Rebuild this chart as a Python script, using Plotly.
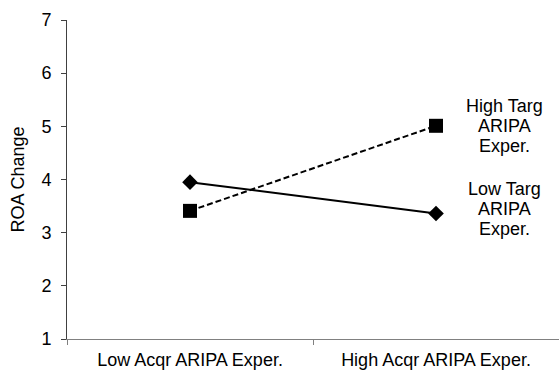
import plotly.graph_objects as go

categories = ["Low Acqr ARIPA Exper.", "High Acqr ARIPA Exper."]
low_targ = [3.95, 3.36]
high_targ = [3.41, 5.01]
series_names = ["Low Targ<br>ARIPA<br>Exper.", "High Targ<br>ARIPA<br>Exper."]
y_ticks = [1, 2, 3, 4, 5, 6, 7]

FONT = "Liberation Sans, Arial, sans-serif"
fig = go.Figure()
fig.add_trace(go.Scatter(
    x=categories, y=low_targ, mode="lines+markers", name=series_names[0],
    line=dict(color="black", width=2),
    marker=dict(symbol="diamond", size=12, color="black"),
))
fig.add_trace(go.Scatter(
    x=categories, y=high_targ, mode="lines+markers", name=series_names[1],
    line=dict(color="black", width=2, dash="6px,3px"),
    marker=dict(symbol="square", size=14, color="black"),
))
LINE_H = 20
for name, vals, ys in [(series_names[0], low_targ, 5), (series_names[1], high_targ, 0)]:
    parts = name.split("<br>")
    for i, part in enumerate(parts):
        fig.add_annotation(x=categories[1], y=vals[1], text=part, showarrow=False,
                           xshift=68, yshift=ys + (1 - i) * LINE_H, align="center",
                           font=dict(family=FONT, size=18, color="black"))

fig.update_layout(
    width=559, height=372,
    margin=dict(l=67, r=0, t=20, b=33),
    paper_bgcolor="white", plot_bgcolor="white",
    showlegend=False,
    font=dict(family=FONT, size=18, color="black"),
)
fig.update_xaxes(
    type="category", range=[-0.5, 1.5], tickson="boundaries",
    showline=True, linecolor="#808080", linewidth=1,
    ticks="outside", ticklen=5, tickcolor="#808080",
    tickfont=dict(family=FONT, size=18, color="black"),
    ticklabelstandoff=4,
    showgrid=False, zeroline=False, automargin=False,
)
fig.update_yaxes(
    range=[1, 7], tickvals=y_ticks,
    title=dict(text="ROA Change", standoff=12, font=dict(family=FONT, size=18, color="black")),
    showline=True, linecolor="#404040", linewidth=1,
    ticks="outside", ticklen=5, tickcolor="#404040",
    tickfont=dict(family=FONT, size=18, color="black"),
    ticklabelstandoff=6,
    showgrid=False, zeroline=False, automargin=False,
)
fig.write_html("out.html", config={"displayModeBar": False},
               post_script="document.body.style.margin='0';document.body.style.padding='0';")
